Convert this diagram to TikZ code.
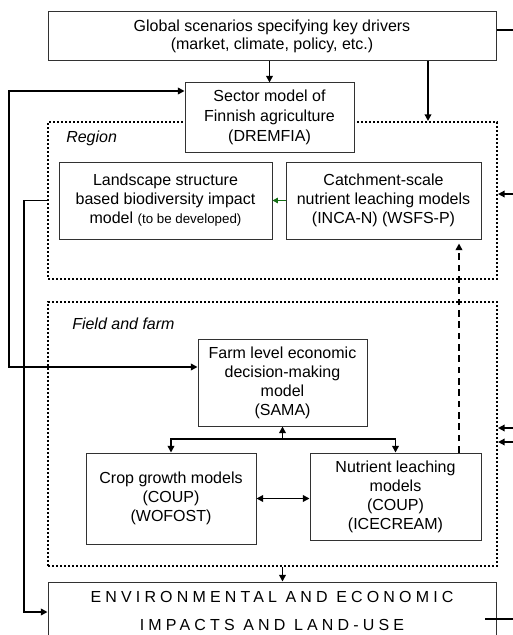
\documentclass[tikz,border=0pt]{standalone}
\usepackage{fontspec}
\setmainfont{Liberation Sans}
\usetikzlibrary{arrows.meta}
\definecolor{boxline}{RGB}{50,50,50}
\definecolor{darkgreen}{RGB}{20,110,20}
\begin{document}
\begin{tikzpicture}[x=0.75pt,y=-0.75pt,
  box/.style={draw=boxline, line width=0.75pt, fill=white, align=center, inner sep=0pt,
    font=\fontsize{12}{14.25}\selectfont},
  zone/.style={draw=black, line width=1.6pt, dash pattern=on 1.5pt off 1.5pt, inner sep=0pt},
  lab/.style={anchor=west, inner sep=0pt, font=\fontsize{12}{14}\selectfont\itshape},
  arr/.style={line width=1.2pt, -{Triangle[length=5pt,width=5pt]}},
  arrboth/.style={line width=1.2pt, {Triangle[length=5pt,width=5pt]}-{Triangle[length=5pt,width=5pt]}},
  plain/.style={line width=1.2pt},
  garr/.style={draw=darkgreen, line width=1pt, -{Triangle[length=4pt,width=4pt]}},
  dasharr/.style={line width=1.2pt, dash pattern=on 5pt off 3.5pt, -{Triangle[length=5pt,width=5pt]}, shorten >=3pt}
]
\clip (0,0) rectangle (513,635);
\fill[white] (0,0) rectangle (513,635);

% zones
\node[zone, minimum width=336.75pt, minimum height=117.75pt] (region) at (272.5,200.5) {};
\node[zone, minimum width=336.75pt, minimum height=198pt] (field) at (272.5,434) {};
\node[lab] (regionlab) at (66,138) {Region};
\node[lab] (fieldlab) at (72,324) {Field and farm};

% boxes
\node[box, minimum width=336pt, minimum height=36.75pt, font=\fontsize{12}{13.5}\selectfont] (top) at (272,36.5)
  {Global scenarios specifying key drivers\\(market, climate, policy, etc.)};
\node[box, minimum width=126.75pt, minimum height=51.75pt, font=\fontsize{12}{15}\selectfont] (sector) at (269.5,117.5)
  {Sector model of\\Finnish agriculture\\(DREMFIA)};
\node[box, minimum width=159.75pt, minimum height=57.75pt] (landscape) at (165.5,200.5)
  {Landscape structure\\based biodiversity impact\\model {\fontsize{10}{12}\selectfont(to be developed)}};
\node[box, minimum width=146.25pt, minimum height=57.75pt] (catchment) at (383.5,200.5)
  {Catchment-scale\\nutrient leaching models\\(INCA-N) (WSFS-P)};
\node[box, minimum width=126.75pt, minimum height=65.25pt] (farm) at (282.5,382.5)
  {Farm level economic\\decision-making\\model\\(SAMA)};
\node[box, minimum width=127.5pt, minimum height=68.25pt] (crop) at (171,498.5)
  {Crop growth models\\(COUP)\\(WOFOST)};
\node[box, minimum width=128.25pt, minimum height=65.25pt] (nutrient) at (395.5,496.5)
  {Nutrient leaching\\models\\(COUP)\\(ICECREAM)};
\node[box, minimum width=336pt, minimum height=43.5pt,
  font=\fontsize{12}{21}\selectfont\addfontfeature{LetterSpace=26}] (bottom) at (272,611)
  {ENVIRONMENTAL AND ECONOMIC\\IMPACTS AND LAND-USE};

% helper coordinates
\coordinate (c1) at (428,0);
\coordinate (rt) at (513,30);
\coordinate (l1) at (9,91);
\coordinate (l2) at (9,367);
\coordinate (l3) at (24,0);
\coordinate (b612) at (0,612);
\coordinate (r1) at (513,194);
\coordinate (r2) at (513,428);
\coordinate (r3) at (513,442);
\coordinate (r4) at (513,619);
\coordinate (r5) at (485,619);
\coordinate (dx) at (459,0);
\coordinate (j) at (282.5,439);

% connectors
\draw[arr] (sector.north |- top.south) -- (sector.north);
\draw[arr] (top.south -| c1) -- (region.north -| c1);
\draw[plain] (top.east |- rt) -- (rt);
\draw[arrboth] (sector.west |- l1) -- (l1) -- (l2) -- (farm.west |- l2);
\draw[arr] (region.west |- landscape.west) -- (l3 |- landscape.west) -- (l3 |- b612) -- (bottom.west |- b612);
\draw[arr] (r1) -- (region.east |- r1);
\draw[garr] (catchment.west) -- (landscape.east);
\draw[dasharr] (nutrient.north -| dx) -- (catchment.south -| dx);
\draw[arr] (j) -- (farm.south);
\draw[arr] (j) -| (crop.north);
\draw[arr] (j) -| (nutrient.north);
\draw[arrboth] (crop.east) -- (nutrient.west |- crop.east);
\draw[arr] (r2) -- (field.east |- r2);
\draw[arr] (r3) -- (field.east |- r3);
\draw[arr] (field.south -| farm.south) -- (bottom.north -| farm.south);
\draw[line width=0.9pt] (r5) -- (r4);
\end{tikzpicture}
\end{document}
